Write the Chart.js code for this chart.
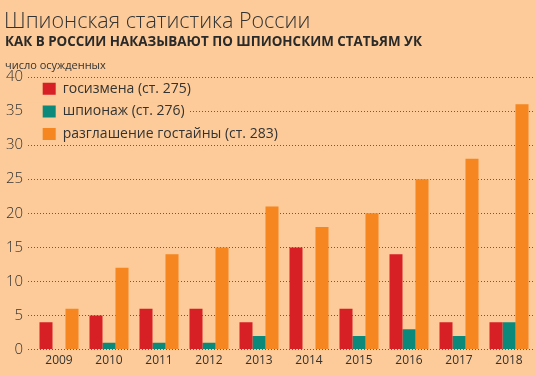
<!DOCTYPE html>
<html>
<head>
<meta charset="utf-8">
<script src="https://cdn.jsdelivr.net/npm/chart.js@4"></script>
<style>
  html, body { margin: 0; padding: 0; }
  body { width: 536px; height: 375px; background: #fccb99; position: relative; overflow: hidden; font-family: "Open Sans", sans-serif; }
  .title { position: absolute; left: 4px; top: 9px; font-size: 21.5px; line-height: 1; font-weight: 300; color: #333; white-space: nowrap; }
  .subtitle { position: absolute; left: 5px; top: 34.5px; font-size: 13.4px; line-height: 1; font-weight: 700; color: #2a2a2a; white-space: nowrap; }
  .note { position: absolute; left: 5px; top: 59px; font-size: 11px; line-height: 1; color: #333; white-space: nowrap; }
  #wrap { position: absolute; left: 0; top: 0; width: 536px; height: 375px; }
</style>
</head>
<body>
<div id="wrap"><canvas id="spyChart" width="536" height="375"></canvas></div>
<div class="title">Шпионская статистика России</div>
<div class="subtitle">КАК В РОССИИ НАКАЗЫВАЮТ ПО ШПИОНСКИМ СТАТЬЯМ УК</div>
<div class="note">число осужденных</div>
<script>
const years = ["2009", "2010", "2011", "2012", "2013", "2014", "2015", "2016", "2017", "2018"];
const treason = [4, 5, 6, 6, 4, 15, 6, 14, 4, 4];
const espionage = [0, 1, 1, 1, 2, 0, 2, 3, 2, 4];
const secrets = [6, 12, 14, 15, 21, 18, 20, 25, 28, 36];
const yTicks = [0, 5, 10, 15, 20, 25, 30, 35, 40];

const BG = "#fccb99";
const LEGEND_FONT = 14;
const LEGEND_PAD = 8.7;
const LEGEND_BOX = 13;

// legend sits inside the plot, top-left, and is drawn on top of the grid
const legendInArea = {
  id: "legendInArea",
  beforeLayout: (chart) => {
    const lg = chart.legend;
    if (lg) lg._layers = () => [{ z: 1, draw: (area) => lg.draw(area) }];
  },
  afterLayout: (chart) => {
    const lg = chart.legend;
    const area = chart.chartArea;
    if (!lg) return;
    const w = lg.right - lg.left;
    const h = lg.bottom - lg.top;
    lg.left = area.left;
    lg.right = area.left + w;
    lg.top = area.top - 4;
    lg.bottom = lg.top + h;
  },
  // hide the gridlines behind the legend rows, like the original
  beforeDatasetsDraw: (chart) => {
    const lg = chart.legend;
    if (!lg || !lg.legendItems) return;
    const c = chart.ctx;
    c.save();
    c.font = LEGEND_FONT + "px 'Open Sans'";
    c.fillStyle = BG;
    lg.legendItems.forEach((item, i) => {
      const top = lg.top + LEGEND_PAD + i * (LEGEND_FONT + LEGEND_PAD);
      const textEnd = lg.left + LEGEND_PAD + LEGEND_BOX + LEGEND_FONT / 2 + c.measureText(item.text).width;
      c.fillRect(24, top - 2, textEnd + 5 - 24, LEGEND_FONT + 4);
    });
    c.restore();
  },
};

document.addEventListener("DOMContentLoaded", () => {
  const ctx = document.getElementById("spyChart");
  new Chart(ctx, {
    type: "bar",
    data: {
      labels: years,
      datasets: [
        { label: "госизмена (ст. 275)", data: treason, backgroundColor: "#d71f26" },
        { label: "шпионаж (ст. 276)", data: espionage, backgroundColor: "#0b8a7c" },
        { label: "разглашение гостайны (ст. 283)", data: secrets, backgroundColor: "#f6861f" },
      ],
    },
    options: {
      responsive: false,
      animation: false,
      layout: { padding: { top: 77, left: 0, right: 2, bottom: 3 } },
      datasets: { bar: { categoryPercentage: 0.78, barPercentage: 1.0 } },
      plugins: {
        title: { display: false },
        tooltip: { enabled: false },
        legend: {
          position: "chartArea",
          align: "start",
          labels: {
            boxWidth: LEGEND_BOX,
            boxHeight: 12,
            padding: LEGEND_PAD,
            color: "#333",
            font: { family: "Open Sans", size: LEGEND_FONT },
          },
        },
      },
      scales: {
        x: {
          grid: { display: false, drawTicks: false },
          border: { display: false },
          ticks: { color: "#333", padding: 4, font: { family: "Open Sans", size: 12 } },
        },
        y: {
          min: 0,
          max: 40,
          afterBuildTicks: (scale) => {
            scale.ticks = yTicks.map((v) => ({ value: v }));
          },
          afterFit: (scale) => {
            scale.width = 34;
          },
          grid: {
            color: "#6b5a4a",
            lineWidth: 1,
            tickLength: 6,
            tickBorderDash: [1, 2],
            tickColor: "#6b5a4a",
          },
          border: { display: false, dash: [1, 2] },
          ticks: { color: "#333", padding: 5, font: { family: "Open Sans", size: 15, weight: 300 } },
        },
      },
    },
    plugins: [legendInArea],
  });
});
</script>
</body>
</html>
